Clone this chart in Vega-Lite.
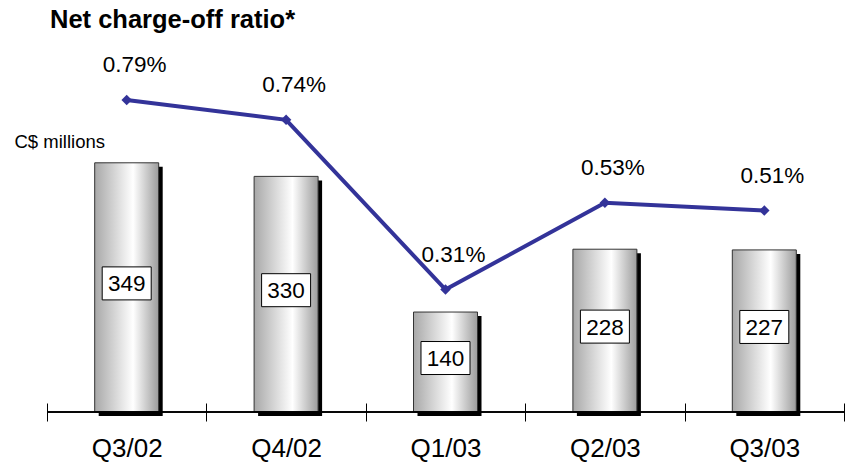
{
  "$schema": "https://vega.github.io/schema/vega-lite/v6.json",
  "width": 797,
  "height": 372,
  "autosize": {"type": "none"},
  "padding": {"left": 47, "top": 40, "right": 2, "bottom": 51},
  "background": "white",
  "config": {
    "view": {"stroke": null},
    "font": "Liberation Sans",
    "text": {"font": "Liberation Sans"}
  },
  "title": {
    "text": "Net charge-off ratio*",
    "anchor": "start",
    "frame": "group",
    "font": "Liberation Sans",
    "fontSize": 25.5,
    "fontWeight": "bold",
    "color": "black",
    "baseline": "alphabetic",
    "offset": 11,
    "dx": 3,
    "dy": 24
  },
  "data": {
    "values": [
      {"quarter": "Q3/02", "value": 349, "ratio": 0.0079},
      {"quarter": "Q4/02", "value": 330, "ratio": 0.0074},
      {"quarter": "Q1/03", "value": 140, "ratio": 0.0031},
      {"quarter": "Q2/03", "value": 228, "ratio": 0.0053},
      {"quarter": "Q3/03", "value": 227, "ratio": 0.0051}
    ]
  },
  "resolve": {"scale": {"y": "independent"}, "axis": {"y": "independent"}},
  "layer": [
    {
      "layer": [
        {
          "mark": {"type": "bar", "color": "black", "size": 64, "xOffset": 4, "yOffset": 4},
          "encoding": {
            "x": {"field": "quarter", "type": "nominal", "sort": null,
              "scale": {"paddingInner": 0, "paddingOuter": 0},
              "axis": {"title": null, "domain": false, "tickBand": "extent", "tickSize": 18, "offset": -9,
                "tickColor": "black", "tickWidth": 1, "labelFontSize": 26, "labelColor": "black",
                "labelFont": "Liberation Sans", "labelPadding": 14, "labelAngle": 0, "grid": false}},
            "y": {"field": "value", "type": "quantitative", "scale": {"domain": [0, 521], "nice": false},
              "axis": {"title": "C$ millions", "domain": false, "ticks": false, "labels": false, "grid": false,
                "titleAngle": 0, "titleX": -33, "titleY": 107, "titleAlign": "left", "titleBaseline": "alphabetic",
                "titleFontSize": 18.5, "titleFontWeight": "normal", "titleFont": "Liberation Sans", "titleColor": "black"}}
          }
        },
        {
          "mark": {"type": "bar", "size": 64, "stroke": "#333333", "strokeWidth": 1,
            "color": {"gradient": "linear", "x1": 0, "y1": 0, "x2": 1, "y2": 0,
              "stops": [
                {"offset": 0, "color": "#a8a8a8"},
                {"offset": 0.6, "color": "#ffffff"},
                {"offset": 1, "color": "#9c9c9c"}
              ]}},
          "encoding": {
            "x": {"field": "quarter", "type": "nominal", "sort": null},
            "y": {"field": "value", "type": "quantitative"}
          }
        },
        {
          "mark": {"type": "rule", "color": "black", "strokeWidth": 1},
          "encoding": {"y": {"datum": 0, "type": "quantitative"}}
        }
      ]
    },
    {
      "layer": [
        {
          "mark": {"type": "line", "color": "#333399", "strokeWidth": 4},
          "encoding": {
            "x": {"field": "quarter", "type": "nominal", "sort": null},
            "y": {"field": "ratio", "type": "quantitative", "scale": {"domain": [0, 0.00942], "nice": false}, "axis": null}
          }
        },
        {
          "mark": {"type": "point", "shape": "diamond", "filled": true, "color": "#333399", "size": 110, "opacity": 1},
          "encoding": {
            "x": {"field": "quarter", "type": "nominal", "sort": null},
            "y": {"field": "ratio", "type": "quantitative"}
          }
        },
        {
          "mark": {"type": "text", "fontSize": 22.5, "color": "black", "dx": 8, "dy": -28, "baseline": "alphabetic", "align": "center"},
          "encoding": {
            "x": {"field": "quarter", "type": "nominal", "sort": null},
            "y": {"field": "ratio", "type": "quantitative"},
            "text": {"field": "ratio", "type": "quantitative", "format": ".2%"}
          }
        }
      ]
    },
    {
      "layer": [
        {
          "mark": {"type": "point", "shape": "M-1.485,-1H1.485V1H-1.485Z", "size": 1089, "filled": true,
            "fill": "white", "stroke": "black", "strokeWidth": 1, "opacity": 1, "yOffset": -4},
          "encoding": {
            "x": {"field": "quarter", "type": "nominal", "sort": null},
            "y": {"field": "value", "type": "quantitative", "scale": {"domain": [0, 1042], "nice": false}, "axis": null}
          }
        },
        {
          "mark": {"type": "text", "fontSize": 22.5, "color": "black", "baseline": "middle", "align": "center", "dy": -3},
          "encoding": {
            "x": {"field": "quarter", "type": "nominal", "sort": null},
            "y": {"field": "value", "type": "quantitative"},
            "text": {"field": "value", "type": "quantitative"}
          }
        }
      ]
    }
  ]
}
